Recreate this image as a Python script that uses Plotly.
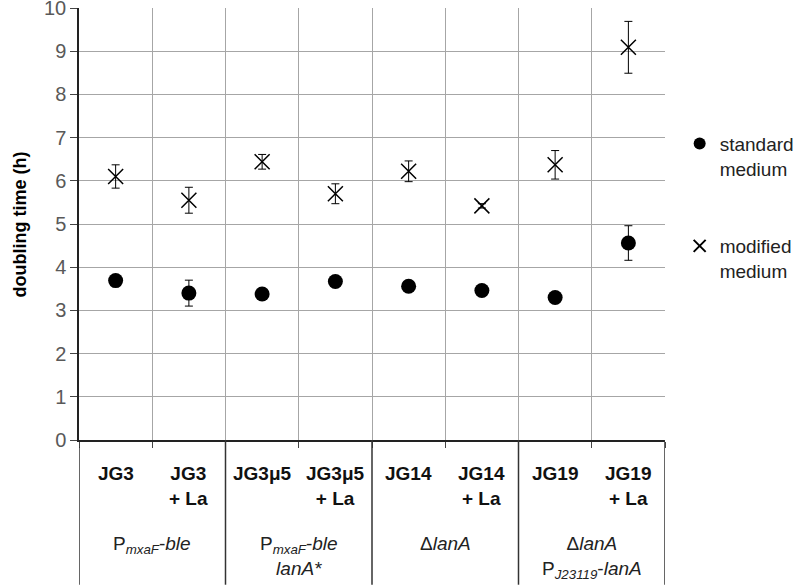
import numpy as np
import plotly.graph_objects as go

strains = ["JG3", "JG3<br>+ La", "JG3μ5", "JG3μ5<br>+ La",
           "JG14", "JG14<br>+ La", "JG19", "JG19<br>+ La"]
groups = ["P<sub><i>mxaF</i></sub>-<i>ble</i>",
          "P<sub><i>mxaF</i></sub>-<i>ble</i><br><i>lanA*</i>",
          "Δ<i>lanA</i>",
          "Δ<i>lanA</i><br>P<sub><i>J23119</i></sub>-<i>lanA</i>"]

standard = [3.69, 3.40, 3.38, 3.67, 3.56, 3.46, 3.30, 4.56]
standard_err = [0.08, 0.30, 0.06, 0.10, 0.06, 0.06, 0.06, 0.40]
modified = [6.10, 5.55, 6.44, 5.70, 6.22, 5.42, 6.37, 9.09]
modified_err = [0.27, 0.30, 0.17, 0.23, 0.24, 0.05, 0.33, 0.60]

FONT = "Liberation Sans, Arial, sans-serif"
xpos = np.arange(len(strains)) + 0.5

fig = go.Figure()
fig.add_trace(go.Scatter(
    x=xpos, y=standard, mode="markers", name="standard<br>medium",
    legendgroup="a",
    marker=dict(symbol="circle", size=15, color="black"),
    error_y=dict(type="data", array=standard_err, color="black", thickness=1, width=4),
))
fig.add_trace(go.Scatter(
    x=xpos, y=modified, mode="markers", name="modified<br>medium",
    legendgroup="b",
    marker=dict(symbol="x-thin", size=15, line=dict(width=1.5, color="black"), color="black"),
    error_y=dict(type="data", array=modified_err, color="black", thickness=1, width=4),
))

# strain labels under the plot
for x, s in zip(xpos, strains):
    fig.add_annotation(x=x, y=-0.048, xref="x", yref="paper", text="<b>" + s + "</b>",
                       showarrow=False, yanchor="top", xanchor="center",
                       font=dict(family=FONT, size=19, color="#111111"))
# group labels
for i, g in enumerate(groups):
    fig.add_annotation(x=2 * i + 1, y=-0.21, xref="x", yref="paper", text=g,
                       showarrow=False, yanchor="top", xanchor="center",
                       font=dict(family=FONT, size=19, color="#222222"))
# separators between groups
for b in range(0, len(strains) + 1, 2):
    fig.add_shape(type="line", xref="x", yref="paper", x0=b, x1=b,
                  y0=-0.016 if b == 0 else 0, y1=-0.335,
                  line=dict(color="#333333", width=1.5))

fig.add_annotation(x=-0.10, y=0.5, xref="paper", yref="paper",
                   text="<b>doubling time (h)</b>", textangle=-90, showarrow=False,
                   xanchor="center", yanchor="middle",
                   font=dict(family=FONT, size=18, color="black"))

fig.update_xaxes(range=[0, 8], tickvals=list(range(9)), showticklabels=False,
                 ticks="outside", ticklen=6, tickcolor="#444444", automargin=False,
                 showgrid=True, gridcolor="#a6a6a6", gridwidth=1,
                 showline=True, linecolor="#222222", linewidth=1.5, zeroline=False)
fig.update_yaxes(range=[0, 10], dtick=1, ticks="outside", ticklen=7, tickcolor="#444444",
                 tickfont=dict(family=FONT, size=20, color="#595959"),
                 automargin=False, ticklabeloverflow="allow",
                 showgrid=True, gridcolor="#a6a6a6", gridwidth=1,
                 showline=True, linecolor="#222222", linewidth=1.5, zeroline=False)

fig.update_layout(
    width=800, height=588,
    margin=dict(l=79, r=135, t=8, b=148, autoexpand=False),
    plot_bgcolor="white", paper_bgcolor="white",
    font=dict(family=FONT, size=19, color="#222222"),
    showlegend=True,
    legend=dict(x=1.025, y=0.73, xanchor="left", yanchor="top", valign="top",
                itemsizing="constant",
                tracegroupgap=50, font=dict(family=FONT, size=19, color="#222222"),
                bgcolor="rgba(0,0,0,0)"),
)

# the page body has a default 8px margin; drop it so the figure fills the window
fig.write_html("out.html", config={"displayModeBar": False},
               post_script="document.body.style.margin = '0';")
